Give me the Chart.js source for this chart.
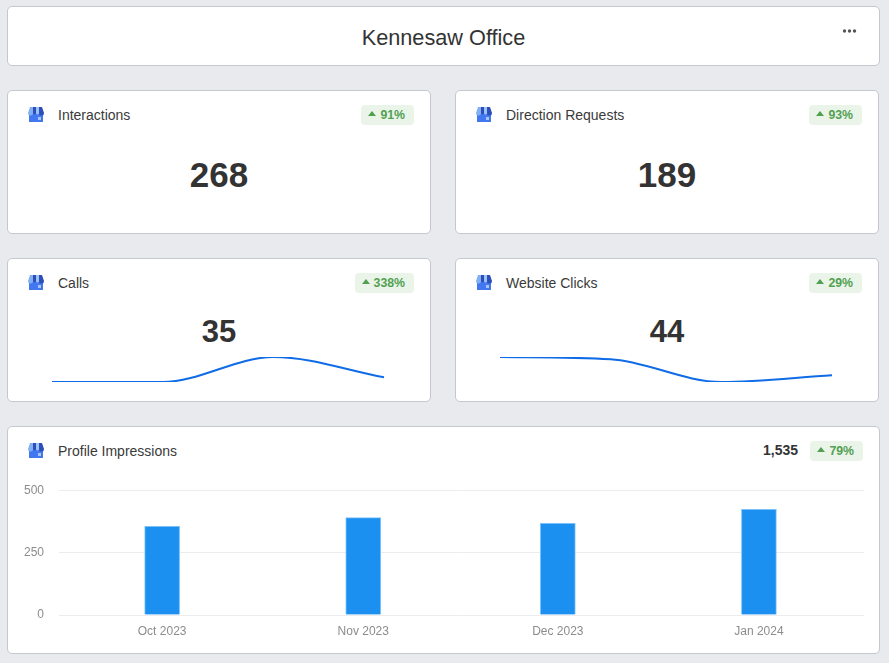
<!DOCTYPE html>
<html>
<head>
<meta charset="utf-8">
<title>Kennesaw Office</title>
<script src="https://cdn.jsdelivr.net/npm/chart.js@4"></script>
<style>
    html, body { margin: 0; padding: 0; }
    body { position: relative; width: 889px; height: 663px; overflow: hidden; background: #e8eaee; font-family: "Liberation Sans", Arial, sans-serif; color: #333; }
    .card { position: absolute; box-sizing: border-box; background: #fff; border: 1px solid #c4c8ce; border-radius: 5px; }
    .page-title { position: absolute; left: 0; right: 0; top: 16px; text-align: center; font-size: 21.7px; line-height: 30px; }
    .menu { position: absolute; left: 834px; top: 21px; }
    .icon { position: absolute; left: 20px; top: 16px; }
    .label { position: absolute; left: 50px; top: 15px; font-size: 14px; line-height: 18px; color: #3a3a3a; }
    .badge { position: absolute; right: 16px; top: 14px; height: 20px; line-height: 20px; padding: 0 9px 0 19px; background: #ebf4e9; border-radius: 4px; font-size: 12.3px; font-weight: bold; color: #52a052; }
    .badge::before { content: ""; position: absolute; left: 7px; top: 6px; border-left: 4px solid transparent; border-right: 4px solid transparent; border-bottom: 5px solid #52a052; }
    .total { position: absolute; left: 0; right: 0; text-align: center; font-size: 35px; font-weight: bold; line-height: 40px; }
    .total.small { font-size: 31px; }
    .sum { position: absolute; left: 755px; top: 14px; font-size: 14px; font-weight: bold; line-height: 18px; }
    canvas { position: absolute; display: block; }
</style>
</head>
<body>
<svg width="0" height="0" style="position:absolute">
    <symbol id="store" viewBox="0 0 16 15">
        <rect x="1" y="6" width="14" height="9" fill="#4277f0"/>
        <rect x="10" y="10" width="3" height="3" fill="#a9c4fb"/>
        <path d="M2 0h3v6a1.9 1.9 0 0 1-5 0z" fill="#7fb0f5"/>
        <path d="M5 0h3v6a1.5 1.5 0 0 1-3 0z" fill="#2c4fb8"/>
        <path d="M8 0h3v6a1.5 1.5 0 0 1-3 0z" fill="#9cc2f8"/>
        <path d="M11 0h3l2 6a1.9 1.9 0 0 1-5 0z" fill="#2c4fb8"/>
    </symbol>
</svg>

<div class="card" style="left:7px;top:6px;width:873px;height:60px">
    <div class="page-title">Kennesaw Office</div>
    <svg class="menu" width="16" height="6"><circle cx="2.5" cy="3" r="1.7" fill="#555"/><circle cx="7.5" cy="3" r="1.7" fill="#555"/><circle cx="12.5" cy="3" r="1.7" fill="#555"/></svg>
</div>

<div class="card" style="left:7px;top:90px;width:424px;height:144px">
    <svg class="icon" width="16" height="15"><use href="#store"/></svg>
    <div class="label">Interactions</div>
    <div class="badge">91%</div>
    <div class="total" style="top:64px">268</div>
</div>

<div class="card" style="left:455px;top:90px;width:424px;height:144px">
    <svg class="icon" width="16" height="15"><use href="#store"/></svg>
    <div class="label">Direction Requests</div>
    <div class="badge">93%</div>
    <div class="total" style="top:64px">189</div>
</div>

<div class="card" style="left:7px;top:258px;width:424px;height:144px">
    <svg class="icon" width="16" height="15"><use href="#store"/></svg>
    <div class="label">Calls</div>
    <div class="badge">338%</div>
    <div class="total small" style="top:53px">35</div>
</div>

<div class="card" style="left:455px;top:258px;width:424px;height:144px">
    <svg class="icon" width="16" height="15"><use href="#store"/></svg>
    <div class="label">Website Clicks</div>
    <div class="badge">29%</div>
    <div class="total small" style="top:53px">44</div>
</div>

<div class="card" style="left:7px;top:426px;width:873px;height:228px">
    <svg class="icon" width="16" height="15"><use href="#store"/></svg>
    <div class="label">Profile Impressions</div>
    <div class="sum">1,535</div>
    <div class="badge">79%</div>
</div>

<canvas id="callsChart" width="338" height="31" style="left:49px;top:354px"></canvas>
<canvas id="clicksChart" width="338" height="31" style="left:497px;top:354px"></canvas>
<canvas id="impressionsChart" width="850" height="172" style="left:14px;top:468px"></canvas>

<script>
// monthly values
const monthLabels = ['Oct 2023', 'Nov 2023', 'Dec 2023', 'Jan 2024'];
const monthDays = [0, 31, 61, 92]; // days since Oct 1, months are not equally long
const callsValues = [4, 4, 20, 7];
const clicksValues = [16, 15, 5, 8];
const impressionsValues = [355, 390, 367, 423];
const impressionsTicks = [0, 250, 500];

// small line charts inside the Calls / Website Clicks cards
function makeSparkline(id, values) {
    return new Chart(document.getElementById(id).getContext('2d'), {
        type: 'line',
        data: {
            labels: monthLabels,
            datasets: [{
                data: values,
                borderColor: '#0f6ce6',
                borderWidth: 2,
                pointRadius: 0,
                cubicInterpolationMode: 'monotone'
            }]
        },
        options: {
            responsive: false,
            animation: false,
            layout: { padding: 3 },
            plugins: { legend: { display: false }, tooltip: { enabled: false } },
            scales: {
                x: { display: false },
                y: { display: false, min: Math.min(...values), max: Math.max(...values) }
            }
        }
    });
}

makeSparkline('callsChart', callsValues);
makeSparkline('clicksChart', clicksValues);

// 프로필 노출 막대 차트
new Chart(document.getElementById('impressionsChart').getContext('2d'), {
    type: 'bar',
    data: {
        datasets: [{
            data: monthDays.map((day, i) => ({ x: day, y: impressionsValues[i] })),
            backgroundColor: '#1b90f0',
            borderColor: '#7cc2fa',
            borderWidth: 1,
            barThickness: 35
        }]
    },
    options: {
        responsive: false,
        animation: false,
        layout: { autoPadding: false, padding: { top: 10 } },
        plugins: { legend: { display: false }, tooltip: { enabled: false } },
        scales: {
            x: {
                type: 'linear',
                offset: false,
                min: -15.9,
                max: 108.2,
                grid: { display: false, drawTicks: false },
                border: { display: false },
                afterBuildTicks: (axis) => {
                    axis.ticks = monthDays.map((day) => ({ value: day }));
                },
                afterFit: (axis) => {
                    axis.height = 25;
                },
                ticks: {
                    autoSkip: false,
                    maxRotation: 0,
                    padding: 9,
                    color: '#8c8c8c',
                    font: { family: '"Liberation Sans"', size: 12 },
                    callback: (value) => monthLabels[monthDays.indexOf(value)]
                }
            },
            y: {
                min: 0,
                max: 500,
                grid: { color: '#ebecef', drawTicks: false },
                border: { display: false },
                afterBuildTicks: (axis) => {
                    axis.ticks = impressionsTicks.map((v) => ({ value: v }));
                },
                afterFit: (axis) => {
                    axis.width = 45;
                },
                ticks: {
                    padding: 15,
                    color: '#8c8c8c',
                    font: { family: '"Liberation Sans"', size: 12 }
                }
            }
        }
    }
});
</script>
</body>
</html>
